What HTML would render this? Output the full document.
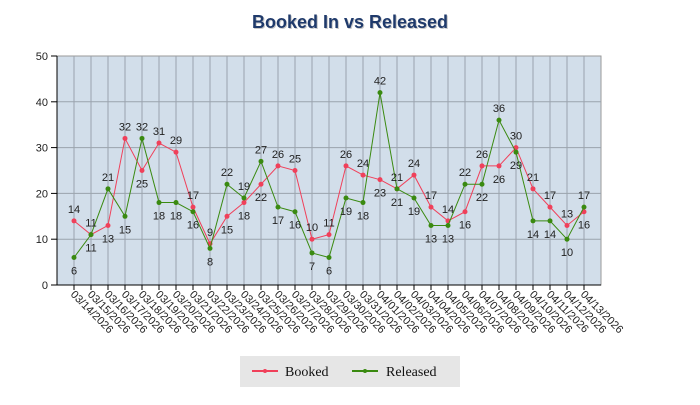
<!DOCTYPE html>
<html><head><meta charset="utf-8"><style>
body{margin:0;background:#fff;width:700px;height:400px;overflow:hidden}
svg text{font-family:"Liberation Sans",sans-serif}
</style></head><body>
<svg id="c" width="700" height="400" xmlns="http://www.w3.org/2000/svg"></svg>
<script>
const B=[14,11,13,32,25,31,29,17,9,15,18,22,26,25,10,11,26,24,23,21,24,17,14,16,26,26,30,21,17,13,16];
const R=[6,11,21,15,32,18,18,16,8,22,19,27,17,16,7,6,19,18,42,21,19,13,13,22,22,36,29,14,14,10,17];
const X0=57,X1=601,Y0=285,Y50=56;
const px=i=>74+i*17, py=v=>Y0-(Y0-Y50)*v/50;
let s='';
s+=`<text x="351" y="29" text-anchor="middle" font-size="18" font-weight="bold" fill="#c8c8c8">Booked In vs Released</text>`;
s+=`<text x="350" y="28" text-anchor="middle" font-size="18" font-weight="bold" fill="#1f3a6b">Booked In vs Released</text>`;
s+=`<rect x="${X0}" y="${Y50}" width="${X1-X0}" height="${Y0-Y50}" fill="#d2deea" stroke="#999"/>`;
for(let i=0;i<31;i++){s+=`<line x1="${px(i)}" y1="${Y50}" x2="${px(i)}" y2="${Y0}" stroke="#9aa3ad"/>`;}
for(let v=10;v<=40;v+=10){s+=`<line x1="${X0}" y1="${py(v)}" x2="${X1}" y2="${py(v)}" stroke="#9aa3ad"/>`;}
s+=`<line x1="${X0}" y1="${Y50}" x2="${X0}" y2="${Y0}" stroke="#000"/><line x1="${X0}" y1="${Y0}" x2="${X1}" y2="${Y0}" stroke="#000"/>`;
for(let v=0;v<=50;v+=10){s+=`<line x1="${X0-6}" y1="${py(v)}" x2="${X0}" y2="${py(v)}" stroke="#000"/><text x="${X0-9}" y="${py(v)+4}" text-anchor="end" font-size="11" fill="#222">${v}</text>`;}
for(let i=0;i<31;i++){
 const d=new Date(2026,2,14+i);const m=String(d.getMonth()+1).padStart(2,'0'),dd=String(d.getDate()).padStart(2,'0');
 s+=`<line x1="${px(i)}" y1="${Y0}" x2="${px(i)}" y2="${Y0+5}" stroke="#000"/>`;
 s+=`<text transform="translate(${px(i)-4},${Y0+10}) rotate(45)" font-size="11" fill="#222">${m}/${dd}/2026</text>`;
}
function line(a,c){return `<polyline points="${a.map((v,i)=>px(i)+','+py(v)).join(' ')}" fill="none" stroke="${c}" stroke-width="1"/>`+a.map((v,i)=>`<circle cx="${px(i)}" cy="${py(v)}" r="2.5" fill="${c}"/>`).join('');}
s+=line(B,'#f0405a')+line(R,'#3a8a10');
for(let i=0;i<31;i++){
 const bu=B[i]>=R[i];
 const lab=(v,up)=>`<text x="${px(i)}" y="${up?py(v)-8:py(v)+17}" text-anchor="middle" font-size="11" fill="#222">${v}</text>`;
 s+=lab(B[i],bu)+lab(R[i],!bu);
}
s+=`<rect x="240" y="356" width="220" height="31" fill="#e6e6e6"/>`;
s+=`<line x1="252" y1="371" x2="278" y2="371" stroke="#f0405a" stroke-width="2"/><circle cx="265" cy="371" r="2" fill="#f0405a"/>`;
s+=`<text x="285" y="376" font-family="Liberation Serif,serif" font-size="14" fill="#111" style="font-family:'Liberation Serif',serif">Booked</text>`;
s+=`<line x1="352" y1="371" x2="378" y2="371" stroke="#3a8a10" stroke-width="2"/><circle cx="365" cy="371" r="2" fill="#3a8a10"/>`;
s+=`<text x="386" y="376" font-size="14" fill="#111" style="font-family:'Liberation Serif',serif">Released</text>`;
document.getElementById('c').innerHTML=s;
</script>
</body></html>
